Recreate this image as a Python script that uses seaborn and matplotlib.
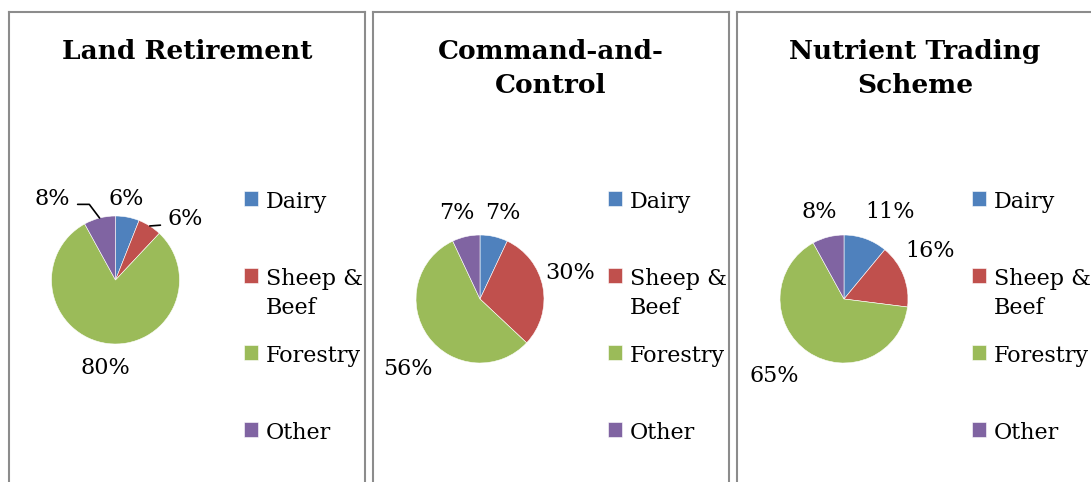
import matplotlib
matplotlib.use("Agg")
import matplotlib.pyplot as plt
import numpy as np
import seaborn as sns

# values (percent of each land use)
titles = ["Land Retirement", "Command-and-\nControl", "Nutrient Trading\nScheme"]
categories = ["Dairy", "Sheep & Beef", "Forestry", "Other"]
legend_labels = ["Dairy\n", "Sheep &\nBeef", "Forestry\n", "Other\n"]
land_retirement = [6, 6, 80, 8]
command_control = [7, 30, 56, 7]
nutrient_trading = [11, 16, 65, 8]

colors = ["#4F81BD", "#C0504D", "#9BBB59", "#8064A2"]

# layout, in pixels of the 1091x482 picture
W, H = 1091, 482
panels = [(9, 12, 365), (373, 12, 729), (737, 12, 1093)]
pie_centers = [(115.5, 280), (480, 299), (844, 299)]
R = 64
# label placement per slice: (distance in radii, angle shift in degrees)
label_place = [
    [(1.27, 3), (1.45, -16.6), (1.38, 0.7), (1.6, 23.6)],
    [(1.39, -2), (1.47, 5), (1.57, 8), (1.39, 2.4)],
    [(1.54, -8), (1.54, 7.4), (1.62, -8), (1.42, 1.6)],
]
leader_style = {
    (0, 1): ((0, 0.25), "arc3"),
    (0, 3): ((1, 0.27), "angle,angleA=0,angleB=127"),
}


def fig_rect(left, top, right, bottom):
    return [left / W, 1 - bottom / H, (right - left) / W, (bottom - top) / H]


sns.set_theme(style="white")
plt.rcParams["font.family"] = ["DejaVu Serif"]
plt.rcParams["text.color"] = "black"

fig = plt.figure(figsize=(W / 100, H / 100), dpi=100)
series = [land_retirement, command_control, nutrient_trading]

for i, (title, values) in enumerate(zip(titles, series)):
    left, top, right = panels[i]

    # panel frame
    frame = fig.add_axes(fig_rect(left, top, right, H + 20))
    frame.set_xticks([])
    frame.set_yticks([])
    frame.set_facecolor("none")
    for sp in frame.spines.values():
        sp.set_color("#8c8c8c")
        sp.set_linewidth(1.5)
    fig.text((left + right) / 2 / W, 1 - 39 / H, title, ha="center", va="top",
             fontsize=19, fontweight="bold", linespacing=1.45)

    # pie
    cx, cy = pie_centers[i]
    S = 150
    ax = fig.add_axes(fig_rect(cx - S, cy - S, cx + S, cy + S))
    wedges, _ = ax.pie(values, colors=colors, startangle=90, counterclock=False,
                       wedgeprops=dict(edgecolor="white", linewidth=0.4))
    lim = S / R
    ax.set_xlim(-lim, lim)
    ax.set_ylim(-lim, lim)
    ax.set_aspect("equal")
    ax.axis("off")

    for j, (w, v) in enumerate(zip(wedges, values)):
        dist, shift = label_place[i][j]
        mid = (w.theta1 + w.theta2) / 2
        ang = np.deg2rad(mid + shift)
        pos = (dist * np.cos(ang), dist * np.sin(ang))
        rim = (np.cos(np.deg2rad(mid)), np.sin(np.deg2rad(mid)))
        if (i, j) in leader_style:
            relpos, conn = leader_style[(i, j)]
            ax.annotate(f"{v}%", xy=rim, xytext=pos, ha="center", va="center", fontsize=16,
                        arrowprops=dict(arrowstyle="-", color="black", lw=1.2, relpos=relpos,
                                        connectionstyle=conn, shrinkA=3, shrinkB=0))
        else:
            ax.text(*pos, f"{v}%", ha="center", va="center", fontsize=16)

    leg = ax.legend(wedges, legend_labels, loc="upper left",
                    bbox_to_anchor=((left + 235) / W, 1 - 191 / H),
                    bbox_transform=fig.transFigure, frameon=False, fontsize=16,
                    handlelength=0.63, handleheight=0.63, handletextpad=0.36,
                    labelspacing=1.18, borderpad=0, borderaxespad=0)
    for t in leg.get_texts():
        t.set_linespacing(1.4)
    # marker next to the first line of each entry
    for col in leg._legend_handle_box.get_children():
        for item in col.get_children():
            item.align = "top"

fig.savefig("out.png", dpi=100, facecolor="white")
